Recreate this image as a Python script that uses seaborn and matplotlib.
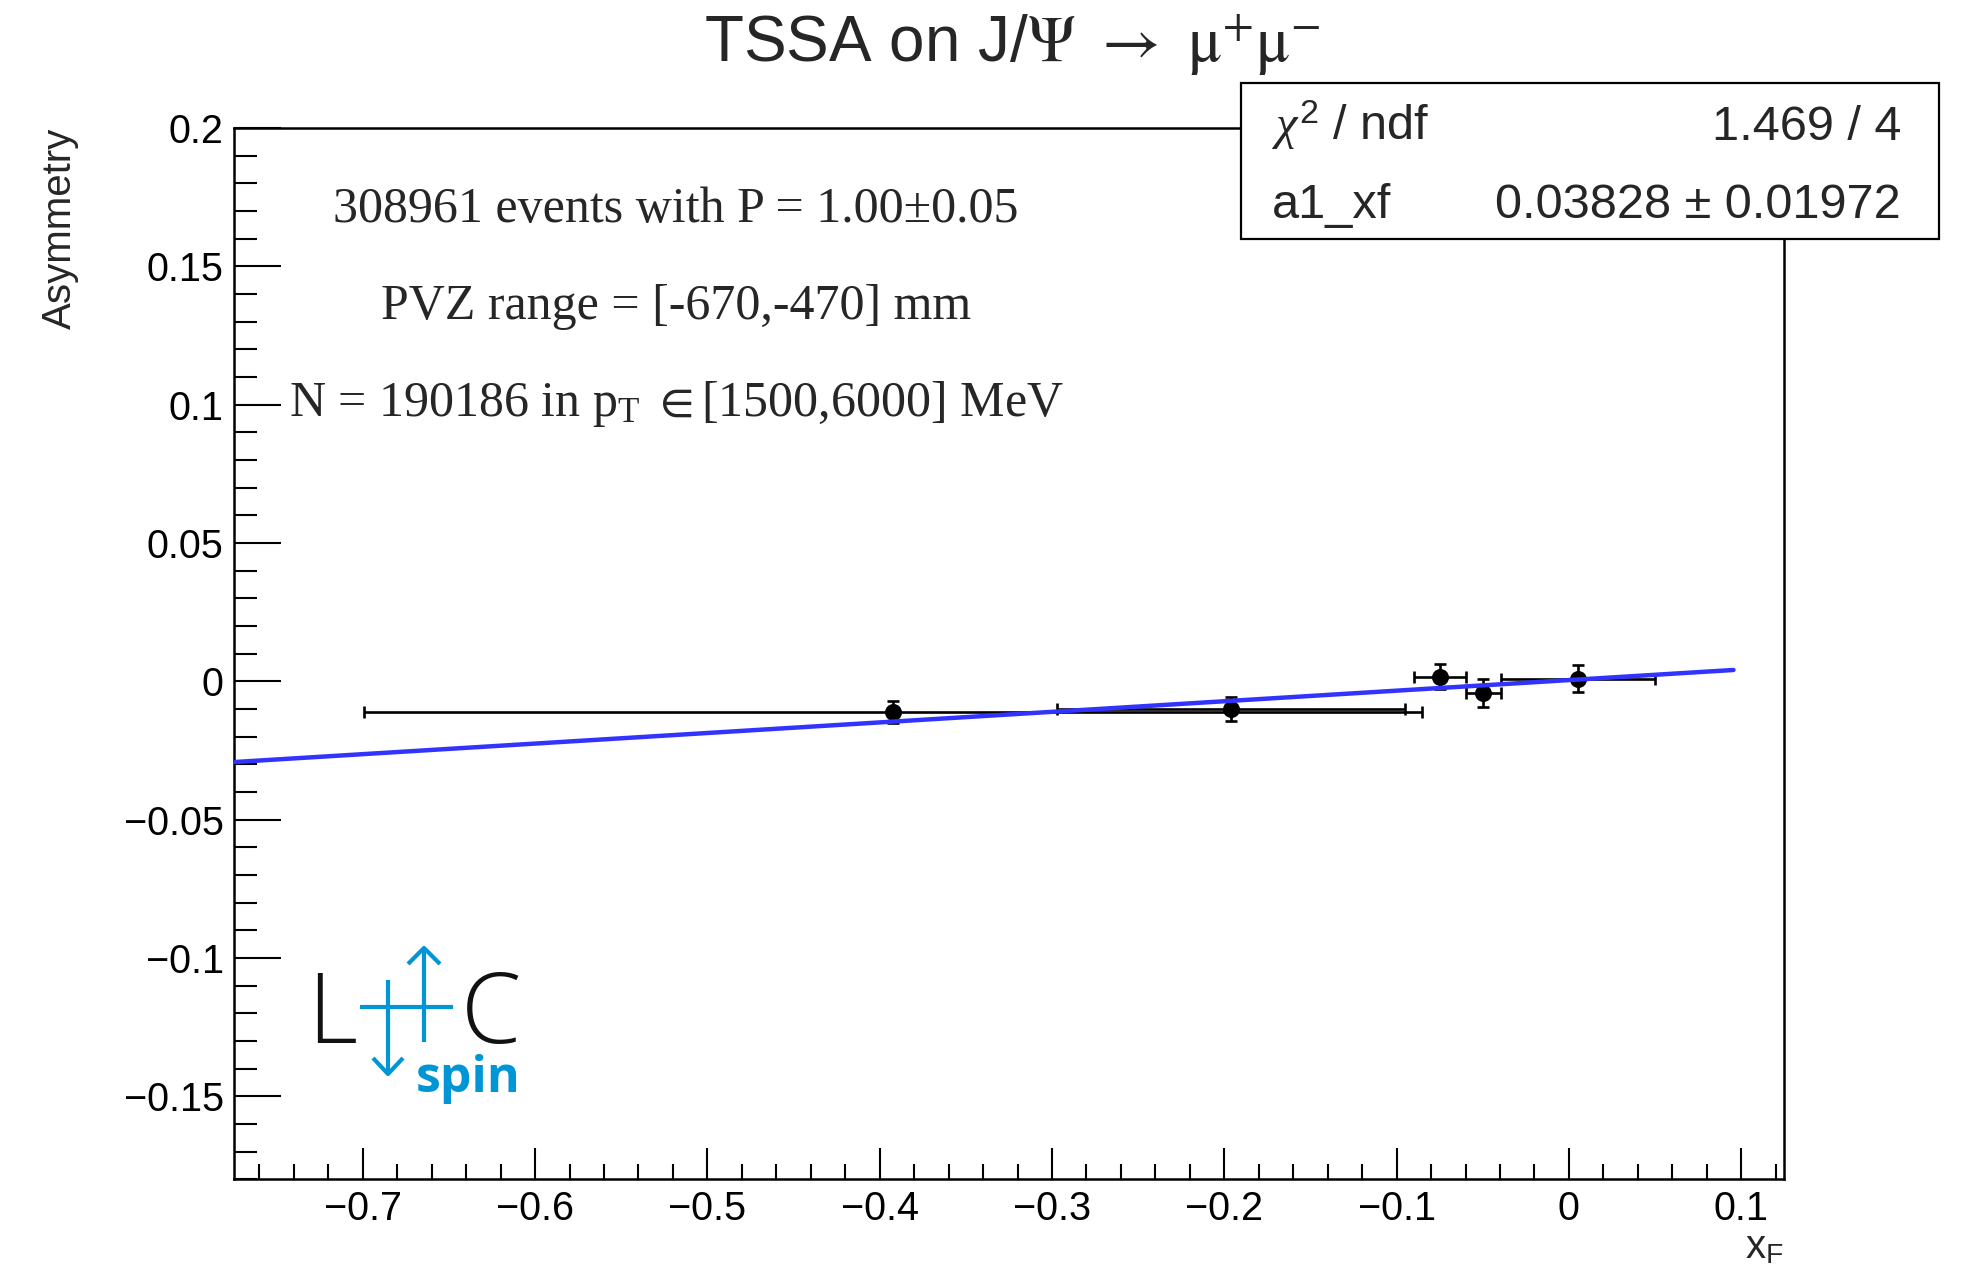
import numpy as np
import matplotlib as mpl
mpl.use('Agg')

import matplotlib.pyplot as plt
from matplotlib.ticker import MultipleLocator, FuncFormatter
from matplotlib.patches import Rectangle
import pandas as pd
import seaborn as sns

# asymmetry per xF bin
xf = [-0.392, -0.196, -0.0747, -0.0496, 0.0053]
xf_err = [0.307, 0.101, 0.0152, 0.0101, 0.0449]
asym = [-0.0111, -0.0101, 0.0017, -0.0043, 0.0010]
asym_err = [0.0039, 0.0043, 0.0044, 0.0051, 0.0050]

# linear fit, end points of the drawn line
fit_x = [-0.775, 0.0955]
fit_y = [-0.0292, 0.0041]

stat_names = [r"$\chi^{\mathregular{2}}$ / ndf", "a1_xf"]
stat_values = ["1.469 / 4", "0.03828 \u00b1 0.01972"]

info_lines = ["308961 events with P = 1.00\u00b10.05",
              "PVZ range = [-670,-470] mm",
              r"N = 190186 in p$_\mathregular{T}$ $\mathregular{\in}$[1500,6000] MeV"]

blue_fit = '#3333ff'
blue_logo = '#0096d6'
sans = ['Liberation Sans', 'DejaVu Sans']
serif = ['Liberation Serif', 'DejaVu Serif']


def root_fmt(v, pos):
    v = round(v, 6) + 0.0
    return ('%g' % v).replace('-', '\u2212')


def draw_logo(fig):
    # LHCspin logo, drawn in figure pixel units
    lg = fig.add_axes([300/1968, 1-1112/1270, 230/1968, 182/1270])
    lg.set_xlim(300, 530)
    lg.set_ylim(1112, 930)
    lg.axis('off')
    lg.text(307, 1043, "L", fontsize=70, family=['Open Sans', 'DejaVu Sans'],
            weight='light', color='#111111', ha='left', va='baseline')
    lg.text(461, 1043, "C", fontsize=70, family=['Open Sans', 'DejaVu Sans'],
            weight='light', color='#111111', ha='left', va='baseline')
    kw = dict(color=blue_logo, lw=3, solid_capstyle='butt')
    lg.plot([360, 453], [1007, 1007], **kw)
    lg.plot([424, 424], [1042, 948], **kw)
    lg.plot([408, 424, 440], [964, 948, 964], **kw)
    lg.plot([388, 388], [980, 1074], **kw)
    lg.plot([373, 388, 403], [1058, 1074, 1058], **kw)
    lg.text(416, 1092, "spin", fontsize=36, family=['Open Sans', 'DejaVu Sans'],
            weight='bold', color=blue_logo, ha='left', va='baseline')


def main():
    sns.set_theme(style="ticks")
    plt.rcParams['font.family'] = sans
    plt.rcParams['mathtext.fontset'] = 'custom'
    plt.rcParams['mathtext.rm'] = 'Liberation Sans'
    plt.rcParams['mathtext.it'] = 'Liberation Serif:italic'
    plt.rcParams['axes.unicode_minus'] = True

    fig = plt.figure(figsize=(19.68, 12.7), dpi=100)
    ax = fig.add_axes([0.11865, 0.07142, 0.78801, 0.82779])

    df = pd.DataFrame({'xf': xf, 'asym': asym})
    ax.errorbar(xf, asym, xerr=xf_err, yerr=asym_err, fmt='none', ecolor='black',
                elinewidth=1.9, capsize=4.5, capthick=1.9, zorder=3)
    sns.scatterplot(data=df, x='xf', y='asym', s=150, color='black',
                    edgecolor='black', linewidth=0, ax=ax, zorder=4)
    sns.lineplot(x=fit_x, y=fit_y, color=blue_fit, lw=3.2, ax=ax, zorder=5)
    ax.set_xlabel('')
    ax.set_ylabel('')

    ax.set_xlim(-0.775, 0.125)
    ax.set_ylim(-0.18, 0.2)
    ax.xaxis.set_major_locator(MultipleLocator(0.1))
    ax.xaxis.set_minor_locator(MultipleLocator(0.02))
    ax.yaxis.set_major_locator(MultipleLocator(0.05))
    ax.yaxis.set_minor_locator(MultipleLocator(0.01))
    ax.xaxis.set_major_formatter(FuncFormatter(root_fmt))
    ax.yaxis.set_major_formatter(FuncFormatter(root_fmt))

    ax.tick_params(axis='both', which='both', direction='in', top=False, right=False,
                   width=1.5, colors='black', labelsize=28.5)
    ax.tick_params(axis='y', which='major', length=33.6, pad=7)
    ax.tick_params(axis='y', which='minor', length=16.6)
    ax.tick_params(axis='x', which='major', length=22.3, pad=8)
    ax.tick_params(axis='x', which='minor', length=11)
    for s in ax.spines.values():
        s.set_visible(True)
        s.set_linewidth(1.8)
        s.set_color('black')
    ax.grid(False)

    # run information
    for txt, yb in zip(info_lines, [0.9106, 0.8183, 0.7260]):
        ax.text(0.2853, yb, txt, transform=ax.transAxes, ha='center', va='baseline',
                fontsize=36, family=serif)

    # title and axis titles
    fig.text(0.5145, 0.9512, r"TSSA on J/$\Psi$ $\rightarrow$ $\mathrm{\mu}^{+}\mathrm{\mu}^{-}$",
             ha='center', va='baseline', fontsize=46, math_fontfamily='stix')
    fig.text(0.0305, 0.8992, "Asymmetry", rotation=90, ha='center', va='top', fontsize=29)
    fig.text(0.9063, 0.0094, r"x$_\mathregular{F}$", ha='right', va='baseline', fontsize=29)

    # fit statistics box
    fig.patches.append(Rectangle((0.6306, 0.8118), 0.3547, 0.1231, transform=fig.transFigure,
                                 facecolor='white', edgecolor='black', lw=1.6, zorder=5))
    for name, val, yb in zip(stat_names, stat_values, [0.8898, 0.8283]):
        fig.text(0.6463, yb, name, ha='left', va='baseline', fontsize=35, zorder=6)
        fig.text(0.9659, yb, val, ha='right', va='baseline', fontsize=35, zorder=6)

    draw_logo(fig)

    fig.savefig("out.png", dpi=100, facecolor='white')
    plt.close(fig)


if __name__ == "__main__":
    main()
